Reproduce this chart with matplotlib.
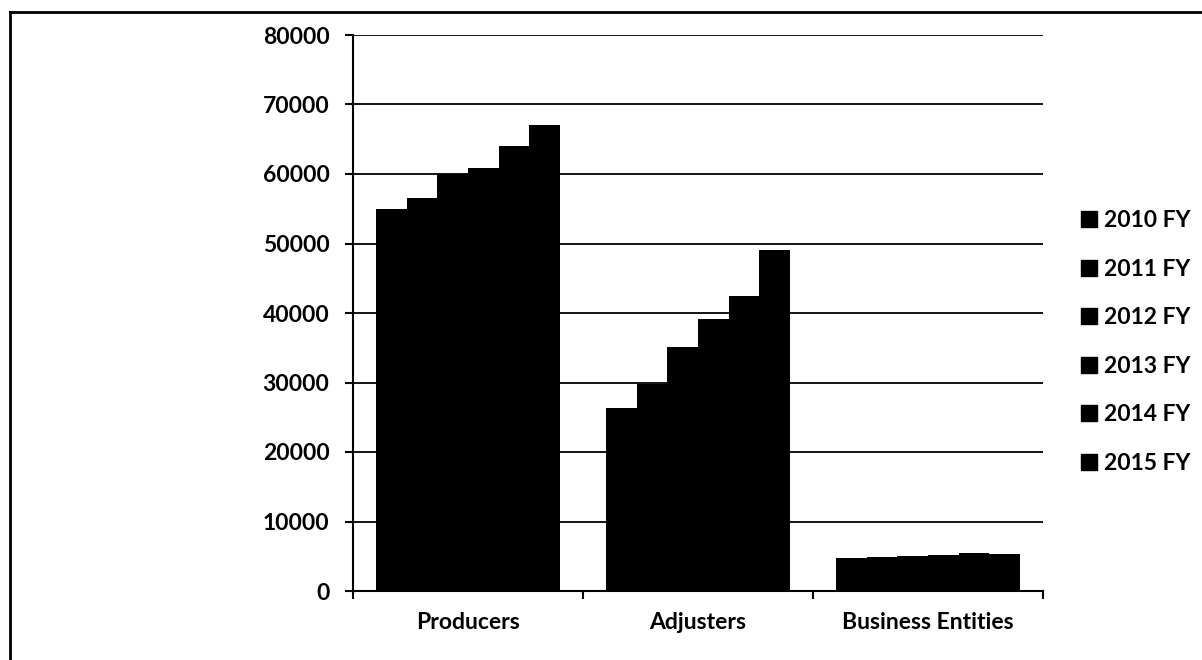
import matplotlib
matplotlib.use("Agg")
import matplotlib.pyplot as plt
from matplotlib.lines import Line2D
import numpy as np

plt.rcParams['font.family'] = ['Lato', 'DejaVu Sans']
plt.rcParams['font.weight'] = 'bold'

categories = ['Producers', 'Adjusters', 'Business Entities']
years = ['2010 FY', '2011 FY', '2012 FY', '2013 FY', '2014 FY', '2015 FY']
producers = [55000, 56500, 60000, 60800, 64000, 67000]
adjusters = [26300, 29800, 35100, 39100, 42500, 49000]
business = [4800, 4900, 5000, 5200, 5400, 5300]
y_ticks = [0, 10000, 20000, 30000, 40000, 50000, 60000, 70000, 80000]

series = np.array([producers, adjusters, business]).T  # filas = años

fig = plt.figure(figsize=(12.02, 6.60), dpi=100)
ax = fig.add_axes([353/1202, 1 - 591/660, (1043 - 353)/1202, (591 - 35)/660])

ancho = 0.1327
centros = np.arange(len(categories)) + 0.5
for i, anio in enumerate(years):
    offs = (i - 2.5) * ancho
    ax.bar(centros + offs, series[i], width=ancho, color='black',
           edgecolor='black', linewidth=0, label=anio, zorder=3)

ax.set_xlim(0, 3)
ax.set_ylim(0, 80000)
ax.set_yticks(y_ticks)
ax.set_yticklabels([str(v) for v in y_ticks])
ax.yaxis.grid(True, color='black', linewidth=1.3, zorder=0)
ax.set_axisbelow(True)

# marcas en los bordes de categoría, etiquetas en el centro
ax.set_xticks([0, 1, 2, 3])
ax.set_xticklabels([])
ax.set_xticks(centros, minor=True)
ax.set_xticklabels(categories, minor=True)
ax.tick_params(axis='x', which='major', direction='out', length=6, width=1.5)
ax.tick_params(axis='x', which='minor', length=0, pad=15, labelsize=16.5)
ax.tick_params(axis='y', direction='out', length=6, width=1.5, pad=11, labelsize=16.5)

for s in ['top', 'right']:
    ax.spines[s].set_visible(False)
for s in ['left', 'bottom']:
    ax.spines[s].set_linewidth(1.5)
    ax.spines[s].set_color('black')

handles = [Line2D([0], [0], marker='s', color='black', linestyle='none',
                  markersize=11) for _ in years]
fig.legend(handles, years, loc='center left',
           bbox_to_anchor=(1080/1202, 1 - 342/660), frameon=False,
           fontsize=16.5, handlelength=0.8, handletextpad=0.25,
           labelspacing=1.2, borderpad=0, borderaxespad=0)

# marco del gráfico escaneado (solo arriba e izquierda)
fig.add_artist(Line2D([10/1202, 1], [1 - 12/660, 1 - 12/660], color='black',
                      linewidth=2, transform=fig.transFigure))
fig.add_artist(Line2D([10/1202, 10/1202], [0, 1 - 12/660], color='black',
                      linewidth=2, transform=fig.transFigure))

fig.savefig('out.png', dpi=100)
